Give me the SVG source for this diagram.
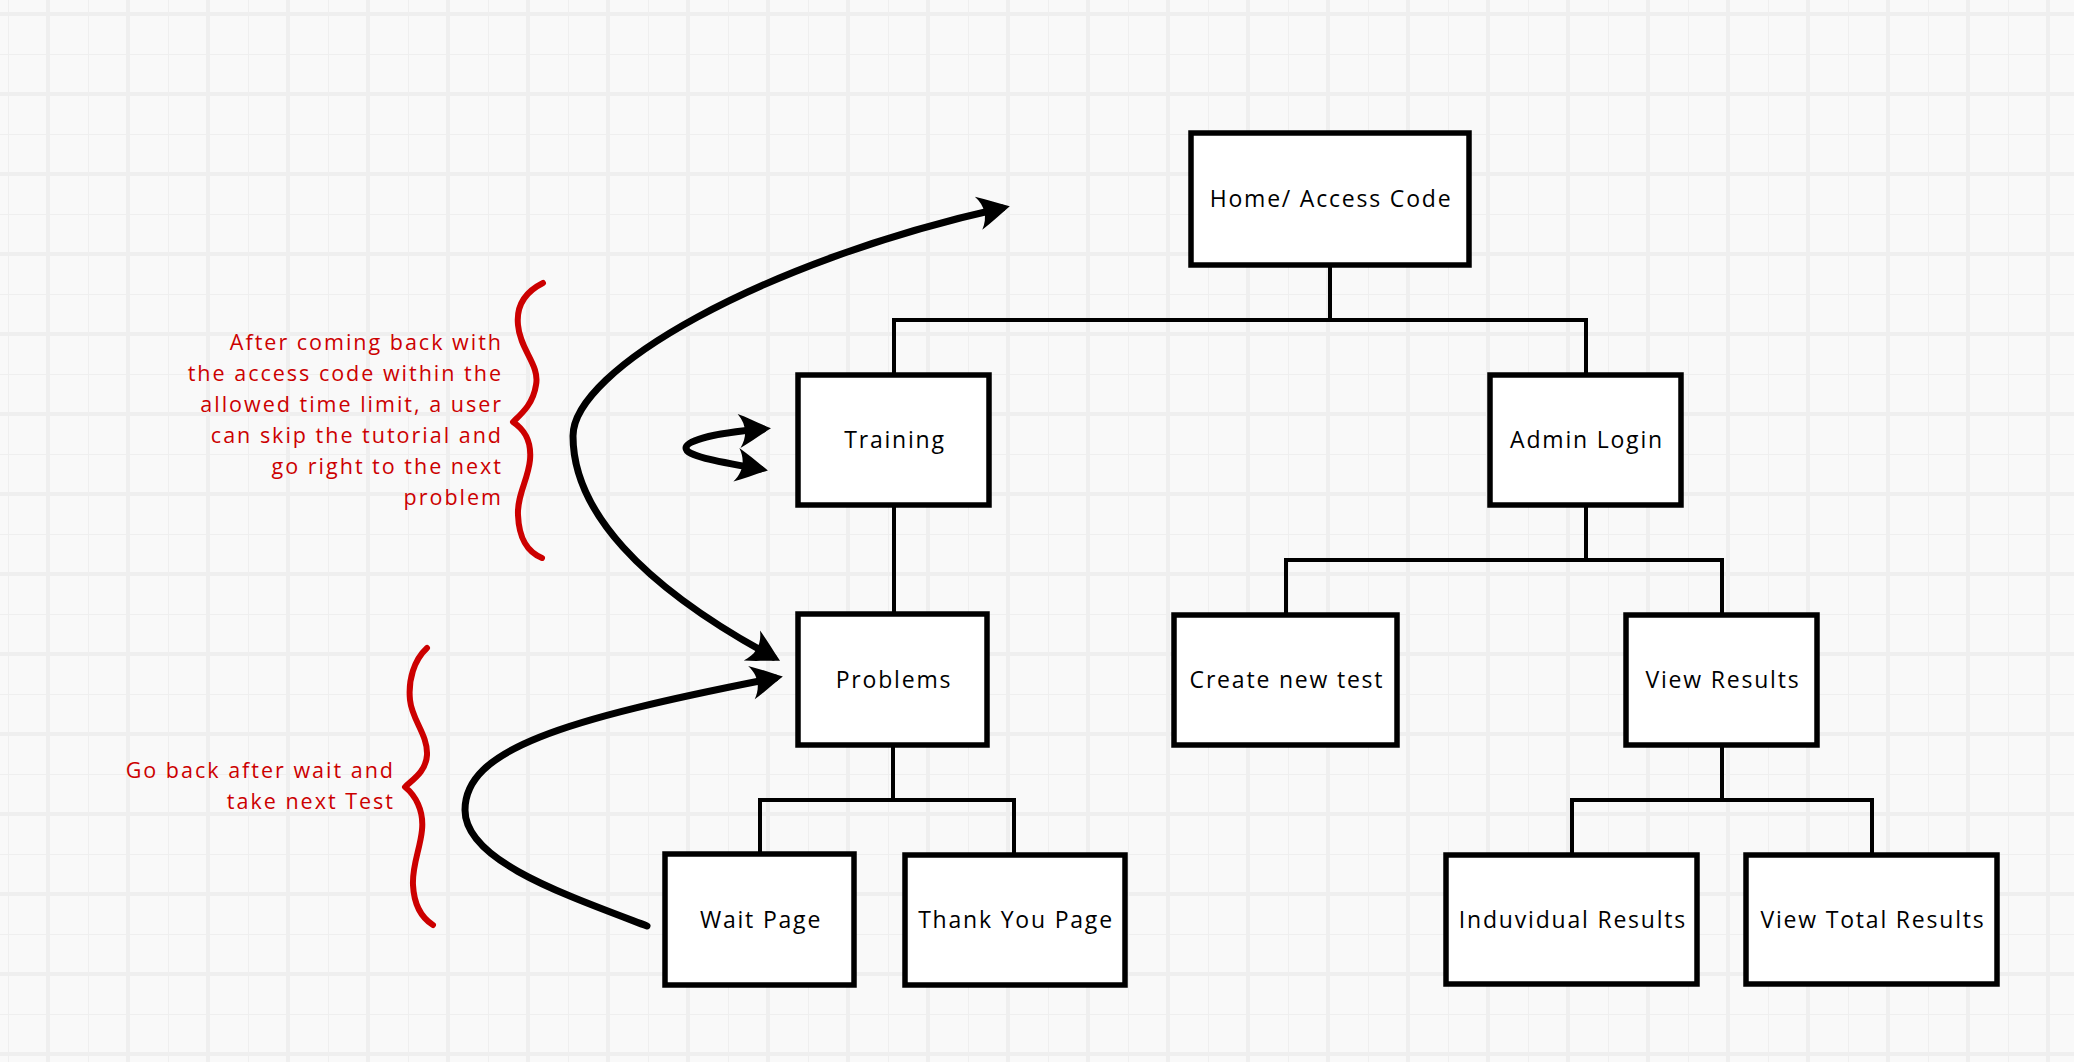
<svg xmlns="http://www.w3.org/2000/svg" width="2074" height="1062" viewBox="0 0 2074 1062">
  <defs>
    <pattern id="grid" patternUnits="userSpaceOnUse" x="0" y="0" width="80" height="80">
      <rect width="80" height="80" fill="#f9f9f9"/>
      <line x1="8.5" y1="0" x2="8.5" y2="80" stroke="#efefef" stroke-width="1"/>
      <line x1="0" y1="54.5" x2="80" y2="54.5" stroke="#efefef" stroke-width="1"/>
      <line x1="48" y1="0" x2="48" y2="80" stroke="#efefef" stroke-width="4"/>
      <line x1="0" y1="14" x2="80" y2="14" stroke="#efefef" stroke-width="4"/>
    </pattern>
    <marker id="head" markerUnits="userSpaceOnUse" viewBox="-34 -18 44 36" markerWidth="44" markerHeight="36" refX="-6" refY="0" orient="auto-start-reverse">
      <path d="M 2 0 C -8 -5 -19 -12 -30 -17 C -22 -6 -22 6 -30 17 C -19 12 -8 5 2 0 Z" fill="#000"/>
    </marker>
  </defs>
  <style>
    .box { fill: #ffffff; stroke: #000000; stroke-width: 5.5; }
    .label { font-family: "Open Sans", "DejaVu Sans", sans-serif; font-size: 23px; letter-spacing: 1.8px; fill: #000; text-anchor: middle; }
    .tree { fill: none; stroke: #000; stroke-width: 4; }
    .arrow { fill: none; stroke: #000; stroke-width: 7; stroke-linecap: round; }
    .note { font-family: "Open Sans", "DejaVu Sans", sans-serif; font-size: 21.5px; letter-spacing: 2px; fill: #cc0000; text-anchor: end; }
    .brace { fill: none; stroke: #cc0000; stroke-width: 6; stroke-linecap: round; stroke-linejoin: round; }
  </style>

  <rect x="0" y="0" width="2074" height="1062" fill="url(#grid)"/>

  <g id="connectors">
    <path class="tree" d="M 1330 267 V 320 M 894 373 V 320 H 1586 V 373"/>
    <path class="tree" d="M 894 507 V 612"/>
    <path class="tree" d="M 893 747 V 800 M 760 852 V 800 H 1014 V 853"/>
    <path class="tree" d="M 1586 507 V 560 M 1286 613 V 560 H 1722 V 613"/>
    <path class="tree" d="M 1722 747 V 800 M 1572 853 V 800 H 1872 V 853"/>
    <path class="arrow" marker-start="url(#head)" marker-end="url(#head)" d="M 773 657 C 640 585 573 510 573 436 C 573 370 760 262 1002 208"/>
    <path class="arrow" marker-start="url(#head)" marker-end="url(#head)" d="M 763 429 C 715 433 686 440 686 448 C 686 456 715 461 760 469"/>
    <path class="arrow" marker-end="url(#head)" d="M 647 926 C 560 893 465 860 465 810 C 465 750 560 720 775 678"/>
  </g>

  <g id="node-home">
    <rect class="box" x="1191" y="133" width="278" height="132"/>
    <text class="label" x="1331" y="207">Home/ Access Code</text>
  </g>
  <g id="node-training">
    <rect class="box" x="798" y="375" width="191" height="130"/>
    <text class="label" x="895" y="448">Training</text>
  </g>
  <g id="node-admin">
    <rect class="box" x="1490" y="375" width="191" height="130"/>
    <text class="label" x="1587" y="448">Admin Login</text>
  </g>
  <g id="node-problems">
    <rect class="box" x="798" y="614" width="189" height="131"/>
    <text class="label" x="894" y="688">Problems</text>
  </g>
  <g id="node-create">
    <rect class="box" x="1174" y="615" width="223" height="130"/>
    <text class="label" x="1287" y="688">Create new test</text>
  </g>
  <g id="node-viewresults">
    <rect class="box" x="1626" y="615" width="191" height="130"/>
    <text class="label" x="1723" y="688">View Results</text>
  </g>
  <g id="node-wait">
    <rect class="box" x="665" y="854" width="189" height="131"/>
    <text class="label" x="761" y="928">Wait Page</text>
  </g>
  <g id="node-thankyou">
    <rect class="box" x="905" y="855" width="220" height="130"/>
    <text class="label" x="1016" y="928">Thank You Page</text>
  </g>
  <g id="node-individual">
    <rect class="box" x="1446" y="855" width="251" height="129"/>
    <text class="label" x="1573" y="928">Induvidual Results</text>
  </g>
  <g id="node-total">
    <rect class="box" x="1746" y="855" width="251" height="129"/>
    <text class="label" x="1873" y="928">View Total Results</text>
  </g>

  <g id="note-skip">
    <path class="brace" d="M 543 283 C 525 292 516 305 518 325 C 520 350 540 365 536 385 C 533 405 520 415 513 422 C 522 428 532 438 530 460 C 528 480 517 495 518 515 C 519 540 528 552 542 558"/>
    <text class="note" x="503" y="350">After coming back with</text>
    <text class="note" x="503" y="381">the access code within the</text>
    <text class="note" x="503" y="412">allowed time limit, a user</text>
    <text class="note" x="503" y="443">can skip the tutorial and</text>
    <text class="note" x="503" y="474">go right to the next</text>
    <text class="note" x="503" y="505">problem</text>
  </g>
  <g id="note-goback">
    <path class="brace" d="M 427 648 C 414 660 408 680 410 700 C 412 720 428 735 427 755 C 426 772 412 780 405 787 C 415 795 424 810 422 830 C 420 850 412 865 413 885 C 414 905 422 918 433 925"/>
    <text class="note" x="395" y="778">Go back after wait and</text>
    <text class="note" x="395" y="809">take next Test</text>
  </g>
</svg>
